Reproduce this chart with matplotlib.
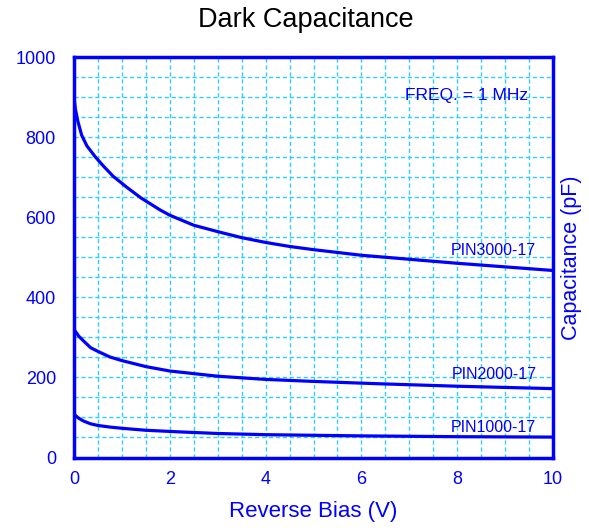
import matplotlib
matplotlib.use("Agg")
import matplotlib.pyplot as plt
import numpy as np

plt.rcParams['font.family'] = ['Liberation Sans', 'DejaVu Sans']

bias3000 = [0, 0.03, 0.08, 0.16, 0.27, 0.45, 0.62, 0.82, 1.1, 1.4, 1.8, 2, 2.5, 3, 3.5, 4, 4.5, 5, 5.5, 6, 7, 8, 9, 10]
pin3000 = [898, 870, 840, 805, 778, 750, 727, 702, 675, 648, 618, 605, 580, 564, 549, 537, 527, 519, 512, 505, 495, 485, 476, 467]
bias2000 = [0, 0.1, 0.2, 0.35, 0.5, 0.75, 1, 1.5, 2, 3, 4, 5, 6.4, 8, 10]
pin2000 = [320, 303, 291, 274, 265, 251, 242, 227, 216, 203, 195, 190, 184, 178, 172]
bias1000 = [0, 0.1, 0.2, 0.35, 0.5, 0.75, 1, 1.5, 2.2, 3, 4, 6, 8, 10]
pin1000 = [108, 98, 91, 84, 80, 76, 73, 68, 64, 60, 57, 54, 52, 51]
labels = ["PIN3000-17", "PIN2000-17", "PIN1000-17"]
label_y = [506, 196, 64]
xticks = [0, 2, 4, 6, 8, 10]
yticks = [0, 200, 400, 600, 800, 1000]

blue = '#0000FF'
fig = plt.figure(figsize=(5.89, 5.28), dpi=100)
ax = fig.add_axes([0.1256, 0.1335, 0.8134, 0.7585])

for xs, ys in ((bias3000, pin3000), (bias2000, pin2000), (bias1000, pin1000)):
    ax.plot(xs, ys, color=blue, lw=2.3, solid_capstyle='butt', solid_joinstyle='round')

for lab, yy in zip(labels, label_y):
    ax.text(9.65, yy, lab, color=blue, fontsize=11.5, ha='right', va='baseline')

ax.text(9.48, 904, "FREQ. = 1 MHz", color=blue, fontsize=12.5, ha='right', va='center')

ax.set_xlim(0, 10)
ax.set_ylim(0, 1000)
ax.set_xticks(xticks)
ax.set_yticks(yticks)
ax.set_xticks(np.arange(0, 10.01, 0.5), minor=True)
ax.set_yticks(np.arange(0, 1000.1, 50), minor=True)
ax.grid(which='both', color='#33CCFF', linestyle=(0, (3, 2)), linewidth=1.0)
ax.tick_params(which='both', length=0, colors=blue, labelsize=13)
ax.tick_params(axis='x', pad=10)
ax.tick_params(axis='y', pad=13)
for s in ax.spines.values():
    s.set_color(blue)
    s.set_linewidth(2.5)

ax.set_xlabel("Reverse Bias (V)", color=blue, fontsize=16, labelpad=9)
ax.yaxis.set_label_position('right')
ax.set_ylabel("Capacitance (pF)", color=blue, fontsize=15.5, labelpad=6)
fig.text(0.52, 0.962, "Dark Capacitance", color='black', fontsize=19.5,
         ha='center', va='center')

fig.savefig("out.png", dpi=100)
